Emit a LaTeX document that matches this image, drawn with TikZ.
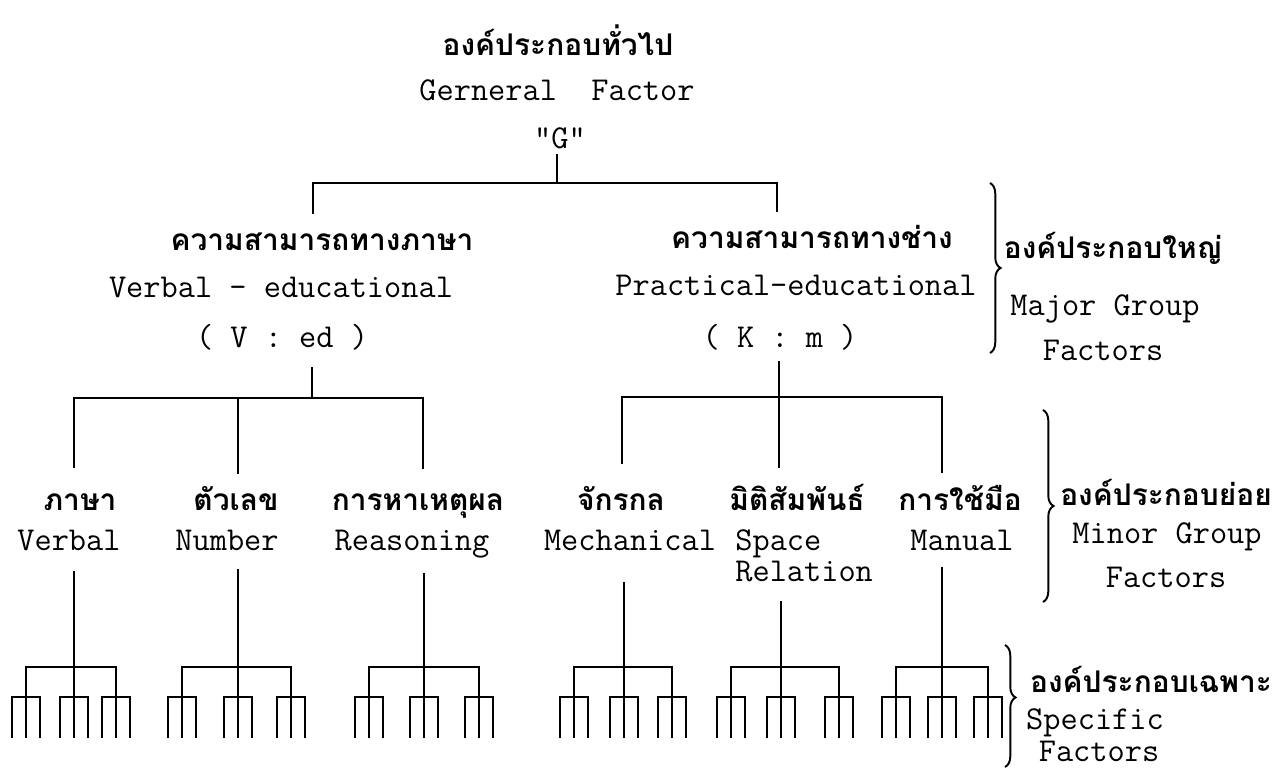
\documentclass[tikz,border=0pt]{standalone}
\usepackage{fontspec}
\usetikzlibrary{decorations.pathreplacing}
\newfontfamily\thaifont[Script=Thai]{Loma}
\newcommand\thaitext{\thaifont\bfseries\fontsize{17}{19}\selectfont}
\newcommand\engtext{\ttfamily\fontsize{19}{22}\selectfont}

\begin{document}
\begin{tikzpicture}[x=0.2mm,y=-0.2mm,
  th/.style={font=\thaitext, anchor=base, inner sep=0pt},
  en/.style={font=\engtext, anchor=base, inner sep=0pt},
  ln/.style={line width=1.3pt, line cap=rect},
  brc/.style={decorate, decoration={brace, amplitude=6pt}, line width=1.1pt}]
\useasboundingbox (0,0) rectangle (1288,767);

% general factor
\node[th] (gth) at (558,55) {องค์ประกอบทั่วไป};
\node[en] (gen) at (557,100) {Gerneral~~Factor};
\node[en] (gg) at (560,148) {"G"};
\coordinate (g0) at (557,155);
\coordinate (g1) at (557,183);
\coordinate (vtop) at (313,183);
\coordinate (ptop) at (777,183);
\draw[ln] (g0) -- (g1);
\draw[ln] (vtop) -- (ptop);
\draw[ln] (vtop) -- ++(0,30);
\draw[ln] (ptop) -- ++(0,28);

% major group factors
\node[th] (vth) at (322,250) {ความสามารถทางภาษา};
\node[en] (ved) at (281,297) {Verbal - educational};
\node[en] (vk) at (282,347) {( V : ed )};
\node[th] (pth) at (812,248) {ความสามารถทางช่าง};
\node[en] (ped) at (796,295) {Practical-educational};
\node[en] (pk) at (780,347) {( K : m )};

\coordinate (v0) at (312,368);
\coordinate (v1) at (312,398);
\coordinate (vl) at (74,398);
\coordinate (vm) at (238,398);
\coordinate (vr) at (423,398);
\draw[ln] (v0) -- (v1);
\draw[ln] (vl) -- (vr);
\draw[ln] (vl) -- ++(0,69);
\draw[ln] (vm) -- ++(0,75);
\draw[ln] (vr) -- ++(0,70);

\coordinate (p0) at (779,362);
\coordinate (p1) at (779,397);
\coordinate (pl) at (622,397);
\coordinate (pm) at (779,397);
\coordinate (pr) at (942,397);
\draw[ln] (p0) -- (p1);
\draw[ln] (pl) -- (pr);
\draw[ln] (pl) -- ++(0,66);
\draw[ln] (pm) -- ++(0,70);
\draw[ln] (pr) -- ++(0,75);

% minor group factors
\node[th] (pasa) at (80,510) {ภาษา};
\node[en] (verb) at (69,550) {Verbal};
\node[th] (tuale) at (236,510) {ตัวเลข};
\node[en] (numb) at (227,550) {Number};
\node[th] (het) at (418,510) {การหาเหตุผล};
\node[en] (reas) at (412,550) {Reasoning};
\node[th] (chak) at (621,510) {จักรกล};
\node[en] (mech) at (630,550) {Mechanical};
\node[th] (miti) at (797,510) {มิติสัมพันธ์};
\node[en, anchor=base west] (spc) at (735,550) {Space};
\node[en, anchor=base west] (rel) at (735,581) {Relation};
\node[th] (mue) at (960,510) {การใช้มือ};
\node[en] (man) at (962,550) {Manual};

% specific factors
\foreach \t/\a/\b/\c in {572/26/74/116, 570/182/238/291, 574/369/424/479,
                         583/574/624/672, 602/731/781/839, 568/896/942/988}{
  \draw[ln] (\b,\t) -- (\b,667);
  \draw[ln] (\a,667) -- (\c,667);
  \foreach \s in {\a,\b,\c}{
    \draw[ln] (\s,667) -- (\s,737);
    \draw[ln] (\s-14,697) -- (\s+14,697);
    \draw[ln] (\s-14,697) -- (\s-14,737);
    \draw[ln] (\s+14,697) -- (\s+14,737);
  }
}

% braces and right labels
\coordinate (maja) at (990,183);
\coordinate (majb) at (990,353);
\draw[brc] (maja) -- (majb);
\node[th] (majth) at (1113,258) {องค์ประกอบใหญ่};
\node[en] (majen) at (1105,315) {Major Group};
\node[en] (majf) at (1103,360) {Factors};

\coordinate (mina) at (1043,410);
\coordinate (minb) at (1043,602);
\draw[brc] (mina) -- (minb);
\node[th] (minth) at (1166,505) {องค์ประกอบย่อย};
\node[en] (minen) at (1167,543) {Minor Group};
\node[en] (minf) at (1166,587) {Factors};

\coordinate (spa) at (1005,645);
\coordinate (spb) at (1005,767);
\draw[brc, decoration={aspect=0.43}] (spa) -- (spb);
\node[th] (spth) at (1151,692) {องค์ประกอบเฉพาะ};
\node[en] (spen) at (1095,729) {Specific};
\node[en] (spf) at (1099,761) {Factors};
\end{tikzpicture}
\end{document}
